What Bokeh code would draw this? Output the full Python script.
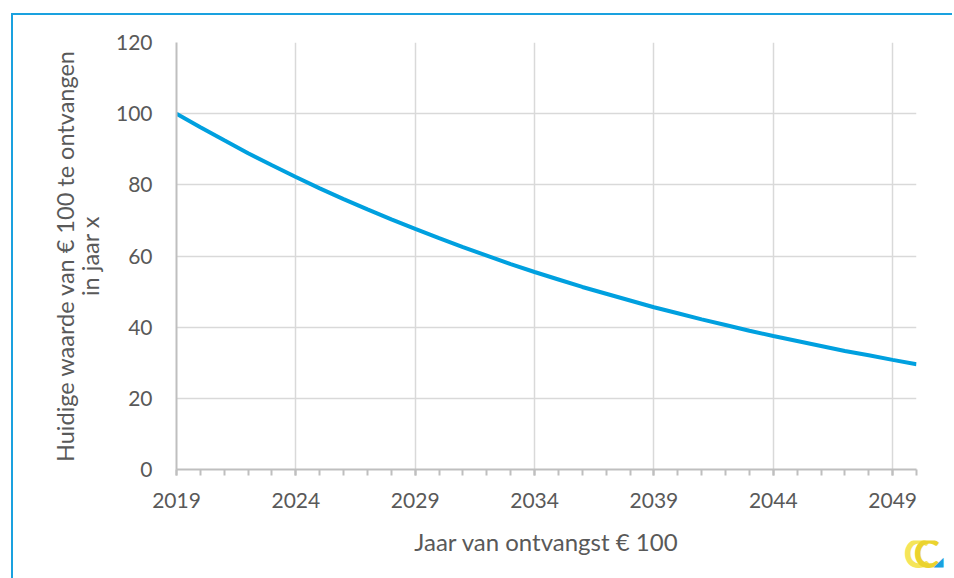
from bokeh.plotting import figure
from bokeh.embed import file_html
from bokeh.resources import INLINE
from bokeh.layouts import column, row
from bokeh.models import FixedTicker, Range1d, Spacer
from bokeh.core.properties import value

years = list(range(2019, 2051))
values = [100.0, 96.2, 92.5, 88.9, 85.5, 82.2, 79.0, 76.0, 73.1, 70.3,
          67.6, 65.0, 62.5, 60.1, 57.7, 55.5, 53.4, 51.3, 49.4, 47.5,
          45.6, 43.9, 42.2, 40.6, 39.0, 37.5, 36.1, 34.7, 33.3, 32.1,
          30.8, 29.6]
x_ticks = [2019, 2024, 2029, 2034, 2039, 2044, 2049]
y_ticks = [0, 20, 40, 60, 80, 100, 120]
x_title = "Jaar van ontvangst € 100"
y_title = "Huidige waarde van € 100 te ontvangen\nin jaar x"

FONT = "Lato"
TXT = "#595959"
BLUE = "#1aa1df"

p = figure(frame_width=740, frame_height=427, output_backend="svg",
           toolbar_location=None,
           x_range=Range1d(2019, 2050), y_range=Range1d(0, 120),
           min_border_left=165, min_border_top=29, min_border_right=36,
           min_border_bottom=109)
p.styles = {"box-shadow": "inset 2px 2px 0px 0px " + BLUE}
p.outline_line_color = None
p.background_fill_color = "white"
p.border_fill_alpha = 0

p.line(years, values, line_color="#00a0df", line_width=4)

xa = p.xaxis[0]
xa.ticker = FixedTicker(ticks=x_ticks, minor_ticks=years)
xa.axis_line_color = "#bfbfbf"
xa.axis_line_width = 2
xa.major_tick_line_color = "#bfbfbf"
xa.minor_tick_line_color = "#bfbfbf"
xa.major_tick_line_width = 2
xa.minor_tick_line_width = 2
xa.major_tick_out = 6
xa.minor_tick_out = 6
xa.major_tick_in = 0
xa.minor_tick_in = 0
xa.major_label_standoff = 17
xa.major_label_text_font = FONT
xa.major_label_text_font_size = "21px"
xa.major_label_text_color = TXT
xa.axis_label = x_title
xa.axis_label_text_font = FONT
xa.axis_label_text_font_size = "24px"
xa.axis_label_text_font_style = "normal"
xa.axis_label_text_color = TXT
xa.axis_label_standoff = 16

ya = p.yaxis[0]
ya.ticker = FixedTicker(ticks=y_ticks)
ya.axis_line_color = "#bfbfbf"
ya.axis_line_width = 2
ya.major_tick_out = 0
ya.major_tick_in = 0
ya.minor_tick_line_color = None
ya.major_label_standoff = 24
ya.major_label_text_font = FONT
ya.major_label_text_font_size = "21px"
ya.major_label_text_color = TXT
ya.axis_label = y_title
ya.axis_label_text_font = FONT
ya.axis_label_text_font_size = "23.5px"
ya.axis_label_text_font_style = "normal"
ya.axis_label_text_color = TXT
ya.axis_label_text_line_height = 0.9
ya.axis_label_standoff = 9

p.xgrid[0].ticker = FixedTicker(ticks=x_ticks)
p.ygrid[0].ticker = FixedTicker(ticks=y_ticks)
p.xgrid.grid_line_color = "#d9d9d9"
p.ygrid.grid_line_color = "#d9d9d9"
p.xgrid.grid_line_width = 1.5
p.ygrid.grid_line_width = 1.5

# small decorative logo in the bottom-right corner
logo = figure(width=44, height=36, output_backend="svg", toolbar_location=None,
              x_range=Range1d(0, 44), y_range=Range1d(0, 36),
              min_border=0, x_axis_type=None, y_axis_type=None)
logo.grid.visible = False
logo.outline_line_color = None
logo.background_fill_alpha = 0
logo.border_fill_alpha = 0
logo.margin = (-38, 0, 0, 903)
logo.text(x=[0], y=[0], text=["C"], text_font=value(FONT),
          text_font_size="40px", text_font_style="bold", text_color="#f5e55a",
          text_baseline="bottom")
logo.text(x=[10], y=[0], text=["C"], text_font=value(FONT),
          text_font_size="40px", text_font_style="bold", text_color="#ebd32e",
          text_baseline="bottom")
logo.text(x=[30], y=[8], text=["◢"], text_font=value("DejaVu Sans"),
          text_font_size="13px", text_color=BLUE, text_baseline="bottom")

layout = column(Spacer(height=13), row(Spacer(width=11), p), logo)
open("out.html", "w").write(file_html(layout, INLINE))
